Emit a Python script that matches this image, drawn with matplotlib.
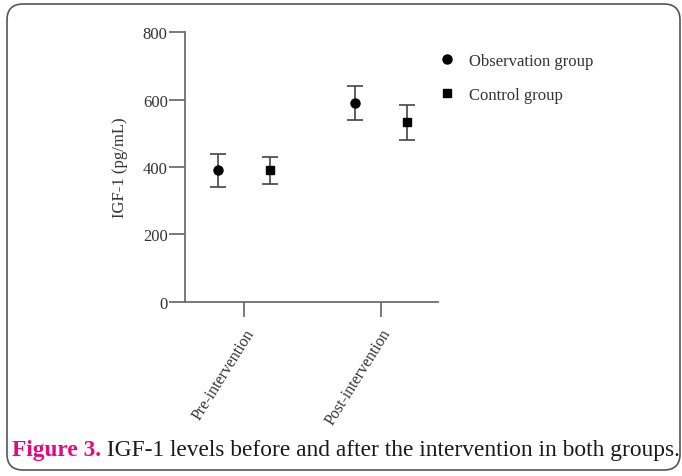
import numpy as np
import matplotlib.pyplot as plt
from matplotlib.patches import FancyBboxPatch
from matplotlib.lines import Line2D

plt.rcParams['font.family'] = ['Liberation Serif', 'DejaVu Serif']

categories = ["Pre-intervention", "Post-intervention"]
obs_mean = [390, 590]
obs_err = [50, 50]
ctrl_mean = [390, 533]
ctrl_err = [40, 52]
y_ticks = [0, 200, 400, 600, 800]

axis_color = "#6e6e6e"
text_color = "#333333"


def plot_graph():
    fig = plt.figure(figsize=(6.82, 4.77), dpi=100)
    ax = fig.add_axes([0.2713, 0.3648, 0.371, 0.566])
    x = np.arange(len(categories))
    off = 0.19
    ax.errorbar(x - off, obs_mean, yerr=obs_err, fmt="o", color="black", ms=6.5,
                ecolor="#444444", elinewidth=1.2, capsize=6, capthick=1.2)
    ax.errorbar(x + off, ctrl_mean, yerr=ctrl_err, fmt="s", color="black", ms=6,
                ecolor="#444444", elinewidth=1.2, capsize=6, capthick=1.2)

    ax.set_xlim(-0.43, 1.415)
    ax.set_ylim(0, 800)
    ax.set_yticks(y_ticks)
    ax.set_xticks(x)
    ax.set_xticklabels(categories, rotation=58, ha="right", va="top",
                       rotation_mode="anchor", fontsize=11.5, color=text_color)
    ax.tick_params(axis="y", labelsize=12, labelcolor=text_color, length=11.5,
                   width=1.3, color=axis_color, pad=1)
    ax.tick_params(axis="x", length=11, width=1.3, color=axis_color, pad=6)
    for side in ["top", "right"]:
        ax.spines[side].set_visible(False)
    for side in ["left", "bottom"]:
        ax.spines[side].set_color(axis_color)
        ax.spines[side].set_linewidth(1.3)
    ax.set_ylabel("IGF-1 (pg/mL)", fontsize=12, color=text_color, labelpad=11)

    handles = [
        Line2D([], [], marker="o", color="black", ls="none", ms=6.5),
        Line2D([], [], marker="s", color="black", ls="none", ms=6),
    ]
    leg = fig.legend(handles, ["Observation group", "Control group"],
                     loc="upper left", bbox_to_anchor=(0.621, 0.919),
                     frameon=False, fontsize=12, labelspacing=1.1,
                     handlelength=1.0, handletextpad=0.8)
    for t in leg.get_texts():
        t.set_color(text_color)

    box = FancyBboxPatch((0.07, 0.06), 6.73, 4.66,
                         boxstyle="round,pad=0,rounding_size=0.16",
                         transform=fig.dpi_scale_trans, fill=False,
                         edgecolor="#555555", linewidth=1.2)
    fig.add_artist(box)

    t1 = fig.text(0.018, 0.045, "Figure 3.", fontsize=16.8, fontweight="bold",
                  color="#e5097f", ha="left", va="baseline")
    ax.annotate(" IGF-1 levels before and after the intervention in both groups.",
                xy=(1, 0), xycoords=t1, ha="left", va="bottom", fontsize=16.8,
                color="#1a1a1a", annotation_clip=False)

    fig.savefig("out.png", dpi=100)


def main():
    plot_graph()


if __name__ == "__main__":
    main()
